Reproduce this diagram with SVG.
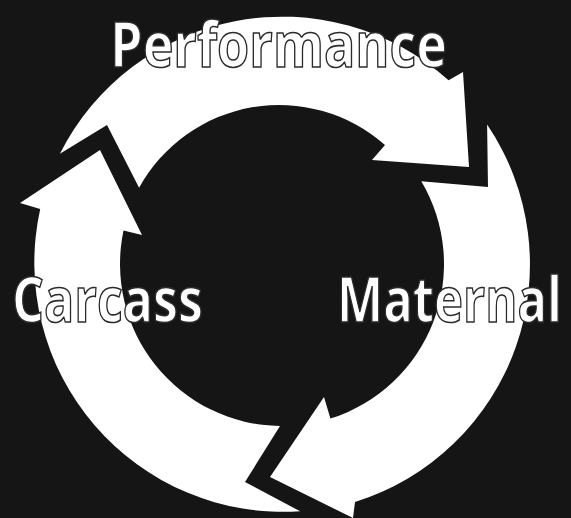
<svg xmlns="http://www.w3.org/2000/svg" width="571" height="518" viewBox="0 0 571 518">
  <style>
    .arrow { fill: #ffffff; stroke: none; }
    .label { font-family: "Open Sans", "Noto Sans", "Liberation Sans", sans-serif; font-weight: 700; font-size: 63px; fill: #ffffff; stroke: #2b2b2b; stroke-width: 1.6px; }
  </style>
  <rect x="0" y="0" width="571" height="518" fill="#151515"/>
  <g id="connectors">
    <path id="arrow-performance" class="arrow" d="M 59.9 153.7 A 249 249 0 0 1 448.6 80.3 L 463 72 L 469 167 L 372 160 L 385 145 A 160 160 0 0 0 139.1 187.7 L 107 125 Z"/>
    <path id="arrow-maternal" class="arrow" d="M 487.1 124.6 A 249 249 0 0 1 355 502 L 353 518 L 270 477 L 324 397 L 330.4 418.6 A 162 162 0 0 0 421.3 181.3 L 488 187 Z"/>
    <path id="arrow-carcass" class="arrow" d="M 300.2 511.3 A 249 249 0 0 1 40.2 209.1 L 20 203 L 100 150 L 142 235 L 123.5 230.6 A 162 162 0 0 0 280 426 L 245 482 Z"/>
  </g>
  <g id="node-performance">
    <text class="label" x="110" y="67" textLength="337" lengthAdjust="spacingAndGlyphs">Performance</text>
  </g>
  <g id="node-carcass">
    <text class="label" x="12" y="322" textLength="191" lengthAdjust="spacingAndGlyphs">Carcass</text>
  </g>
  <g id="node-maternal">
    <text class="label" x="337" y="322" textLength="225" lengthAdjust="spacingAndGlyphs">Maternal</text>
  </g>
</svg>
